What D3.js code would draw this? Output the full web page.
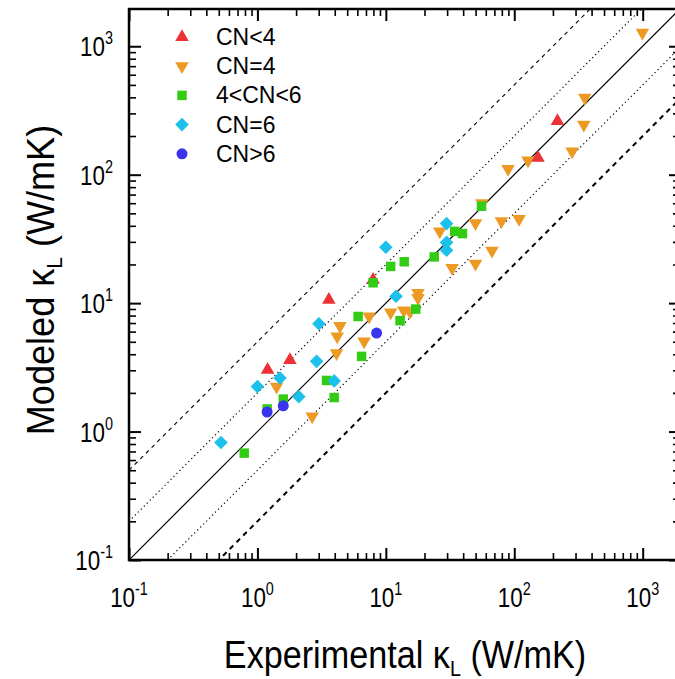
<!DOCTYPE html>
<html>
<head>
<meta charset="utf-8">
<script src="https://cdn.jsdelivr.net/npm/d3@7"></script>
<style>
  body { margin: 0; background: #fff; }
  svg { display: block; font-family: Arial, "Liberation Sans", Helvetica, sans-serif; }
</style>
</head>
<body>
<div id="chart"></div>
<script>
// experimental vs modeled kappa_L, [x, y] pairs
var cnLess4 = [[1.2, 3.03], [1.79, 3.6], [3.6, 10.6], [7.96, 15.2], [153, 135], [217, 261]];
var cnEq4 = [[995, 1274], [354, 397], [348, 245], [282, 152], [128, 129], [89.5, 111],
             [56, 60], [109, 45.2], [79.4, 43.4], [49.9, 42], [26.3, 36.2], [67.1, 25.6],
             [49.9, 20.3], [32.8, 18.8], [17.8, 12.0], [17.8, 11.0], [10.9, 8.47],
             [13.8, 8.77], [15.4, 8.6], [7.41, 7.87], [4.39, 6.64], [4.18, 5.5],
             [6.77, 5.03], [4.13, 4.08], [1.41, 2.24], [2.67, 1.31]];
var cnBetween = [[55.6, 56.8], [34.4, 36.2], [39.5, 34.8], [23.8, 22.9], [13.9, 21.0],
                 [10.9, 19.3], [7.96, 14.4], [6.08, 7.87], [17.1, 8.99], [12.9, 7.3],
                 [6.47, 3.85], [3.45, 2.5], [3.96, 1.84], [1.59, 1.79], [1.19, 1.5], [0.789, 0.679]];
var cnEq6 = [[29.7, 41.6], [29.7, 29.7], [29.7, 25.8], [10.0, 27.2], [12.0, 11.3],
             [3.01, 6.9], [2.89, 3.52], [3.96, 2.48], [1.5, 2.61], [1.0, 2.24],
             [2.1, 1.87], [0.52, 0.821]];
var cnMore6 = [[8.47, 5.85], [1.59, 1.585], [1.19, 1.42]];

var seriesNames = ["CN<4", "CN=4", "4<CN<6", "CN=6", "CN>6"];
var decades = [0.1, 1, 10, 100, 1000];
var decadeExponents = ["-1", "0", "1", "2", "3"];
var ratios = [5, 2, 1, 0.5, 0.2]; // modeled / experimental guide lines

function init() {
    var w = 675;
    var h = 679;
    var plot = { left: 129, right: 677, top: 9, bottom: 560 };

    var colors = ["#ec3237", "#ec9a24", "#33cc14", "#1bc1e8", "#3a34ee"];
    var shapes = [
        d3.symbol().type(d3.symbolTriangle).size(80),
        d3.symbol().type(d3.symbolTriangle).size(80),
        d3.symbol().type(d3.symbolSquare).size(90),
        d3.symbol().type(d3.symbolSquare).size(92),
        d3.symbol().type(d3.symbolCircle).size(95)
    ];
    var rotations = [0, 180, 0, 45, 0];
    var allSeries = [cnLess4, cnEq4, cnBetween, cnEq6, cnMore6];
    var drawOrder = [1, 0, 2, 3, 4];

    var xScale = d3.scaleLog().domain([0.1, 1850]).range([plot.left, plot.right]);
    var yScale = d3.scaleLog().domain([0.1, 1950]).range([plot.bottom, plot.top]);

    var svg = d3.select("#chart")
        .append("svg")
        .attr("width", w)
        .attr("height", h);

    svg.append("clipPath").attr("id", "plotclip")
        .append("rect")
        .attr("x", plot.left).attr("y", plot.top)
        .attr("width", plot.right - plot.left)
        .attr("height", plot.bottom - plot.top);

    // guide lines y = r * x
    var lineStyle = {
        "5": { dash: "4,4", width: 1.1 },
        "2": { dash: "1.2,3", width: 1.2 },
        "1": { dash: null, width: 1.2 },
        "0.5": { dash: "1.2,3", width: 1.2 },
        "0.2": { dash: "5,4.5", width: 2 }
    };
    var xEnds = xScale.domain();
    svg.append("g")
        .attr("clip-path", "url(#plotclip)")
        .selectAll("line")
        .data(ratios)
        .enter()
        .append("line")
        .attr("x1", xScale(xEnds[0]))
        .attr("x2", xScale(xEnds[1]))
        .attr("y1", function(r) { return yScale(r * xEnds[0]); })
        .attr("y2", function(r) { return yScale(r * xEnds[1]); })
        .attr("stroke", "#000")
        .attr("stroke-width", function(r) { return lineStyle[r].width; })
        .attr("stroke-dasharray", function(r) { return lineStyle[r].dash; });

    // points
    drawOrder.forEach(function(s) {
        svg.append("g")
            .selectAll("path")
            .data(allSeries[s])
            .enter()
            .append("path")
            .attr("d", shapes[s])
            .attr("fill", colors[s])
            .attr("transform", function(d) {
                return "translate(" + xScale(d[0]) + "," + yScale(d[1]) + ") rotate(" + rotations[s] + ")";
            });
    });

    // ticks, all pointing inwards
    var minor = [];
    decades.forEach(function(d) {
        for (var k = 2; k <= 9; k++) minor.push(d * k);
    });
    var minorX = minor.filter(function(v) { return v <= xScale.domain()[1]; });
    var minorY = minor.filter(function(v) { return v <= yScale.domain()[1]; });

    function addTicks(axis, transform, values, size, width) {
        svg.append("g")
            .attr("transform", transform)
            .call(axis.tickValues(values).tickSize(-size).tickFormat(""))
            .call(function(g) { g.select(".domain").remove(); })
            .selectAll("line")
            .attr("stroke-width", width);
    }
    addTicks(d3.axisBottom(xScale), "translate(0," + plot.bottom + ")", decades, 12, 2);
    addTicks(d3.axisBottom(xScale), "translate(0," + plot.bottom + ")", minorX, 7, 1.6);
    addTicks(d3.axisTop(xScale), "translate(0," + plot.top + ")", decades, 12, 2);
    addTicks(d3.axisTop(xScale), "translate(0," + plot.top + ")", minorX, 7, 1.6);
    addTicks(d3.axisLeft(yScale), "translate(" + plot.left + ",0)", decades, 12, 2);
    addTicks(d3.axisLeft(yScale), "translate(" + plot.left + ",0)", minorY, 7, 1.6);
    addTicks(d3.axisRight(yScale), "translate(" + plot.right + ",0)", decades, 8, 2);
    addTicks(d3.axisRight(yScale), "translate(" + plot.right + ",0)", minorY, 4, 1.6);

    svg.append("rect")
        .attr("x", plot.left).attr("y", plot.top)
        .attr("width", plot.right - plot.left)
        .attr("height", plot.bottom - plot.top)
        .attr("fill", "none")
        .attr("stroke", "#000")
        .attr("stroke-width", 2.5);

    // tick labels 10^n, a narrow face like the original
    function powerLabel(sel) {
        sel.attr("font-size", 28);
        sel.append("tspan").text("10");
        sel.append("tspan")
            .attr("dy", -12).attr("font-size", 18)
            .text(function(d, i) { return decadeExponents[i]; });
    }
    svg.append("g").selectAll("text")
        .data(decades)
        .enter()
        .append("text")
        .attr("transform", function(d) { return "translate(" + xScale(d) + ",607) scale(0.8,1)"; })
        .attr("text-anchor", "middle")
        .call(powerLabel);

    svg.append("g").selectAll("text")
        .data(decades)
        .enter()
        .append("text")
        .attr("transform", function(d) { return "translate(113," + (yScale(d) + 10) + ") scale(0.8,1)"; })
        .attr("text-anchor", "end")
        .call(powerLabel);

    // axis titles
    var xTitle = svg.append("text")
        .attr("transform", "translate(405,668) scale(0.9,1)")
        .attr("text-anchor", "middle")
        .attr("font-size", 38);
    xTitle.append("tspan").text("Experimental \u03ba");
    xTitle.append("tspan").attr("font-size", 22).attr("dy", 8).text("L");
    xTitle.append("tspan").attr("dy", -8).text(" (W/mK)");

    var yTitle = svg.append("text")
        .attr("transform", "translate(54,280) rotate(-90) scale(0.95,1)")
        .attr("text-anchor", "middle")
        .attr("font-size", 38);
    yTitle.append("tspan").text("Modeled \u03ba");
    yTitle.append("tspan").attr("font-size", 22).attr("dy", 8).text("L");
    yTitle.append("tspan").attr("dy", -8).text(" (W/mK)");

    // legend
    var legend = svg.selectAll(".legend")
        .data(seriesNames)
        .enter()
        .append("g")
        .attr("class", "legend")
        .attr("transform", function(d, i) {
            return "translate(182," + (37 + i * 29.2) + ")";
        });

    legend.append("path")
        .attr("d", function(d, i) { return shapes[i](); })
        .attr("fill", function(d, i) { return colors[i]; })
        .attr("transform", function(d, i) { return "rotate(" + rotations[i] + ")"; });

    legend.append("text")
        .attr("x", 34)
        .attr("y", 8)
        .attr("font-size", 23)
        .text(function(d) { return d; });
}

window.onload = init;
</script>
</body>
</html>
